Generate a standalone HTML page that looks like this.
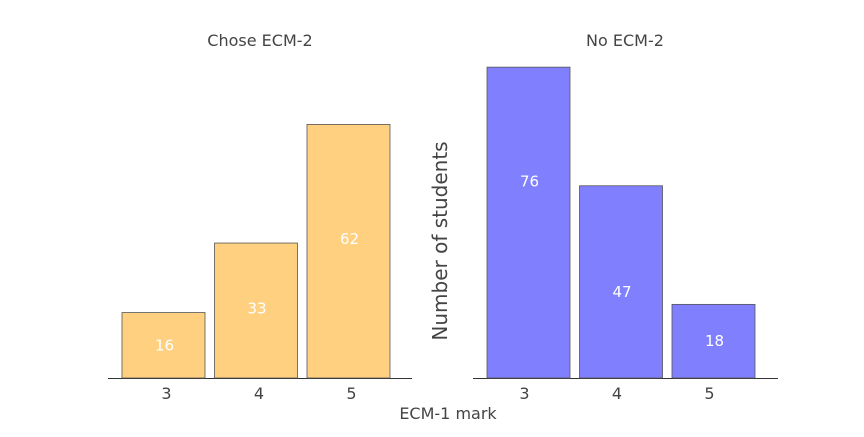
<!DOCTYPE html>
<html><head><meta charset="utf-8"><style>
body{margin:0;background:#fff;}
svg text{font-family:"DejaVu Sans","Liberation Sans",sans-serif;}
</style></head><body>
<svg id="chart" width="864" height="432" viewBox="0 0 864 432">
<text x="260" y="46" text-anchor="middle" font-size="16" fill="#444">Chose ECM-2</text>
<text x="625" y="46" text-anchor="middle" font-size="16" fill="#444">No ECM-2</text>
<text x="0" y="0" transform="translate(447,241) rotate(-90)" text-anchor="middle" font-size="20" fill="#444">Number of students</text>
<text x="448" y="419" text-anchor="middle" font-size="16" fill="#444">ECM-1 mark</text>
<g id="marks"></g>
</svg>
<script>
const categories = [3, 4, 5];
const choseValues = [16, 33, 62];
const noValues = [76, 47, 18];
// value-level at which each printed label sits
const choseLabelAt = [8, 17, 34];
const noLabelAt = [48, 21, 9];

const baseY = 378, pxPerUnit = 4.09, barW = 83, step = 92.5;
const yScale = v => baseY - v * pxPerUnit;
const panels = [
  {name: 'chose', values: choseValues, labels: choseLabelAt, first: 122, axis: [108, 412], fill: '#FFD080', tickDx: 3},
  {name: 'no', values: noValues, labels: noLabelAt, first: 487, axis: [473, 778], fill: '#8080FF', tickDx: -4}
];
const ns = 'http://www.w3.org/2000/svg';
const g = document.getElementById('marks');
function mk(tag, attrs) {
  const e = document.createElementNS(ns, tag);
  for (const k in attrs) e.setAttribute(k, attrs[k]);
  g.appendChild(e);
  return e;
}
panels.forEach(p => {
  const ax = mk('line', {x1: p.axis[0], x2: p.axis[1], y1: baseY + 0.5, y2: baseY + 0.5, stroke: '#333', 'stroke-width': 1});
  
  
  categories.forEach((c, i) => {
    const x = p.first + i * step;
    const v = p.values[i];
    const top = yScale(v);
    const r = mk('rect', {x: x, y: top, width: barW, height: baseY - top, fill: p.fill, stroke: '#555', 'stroke-width': 0.8});
    
    
    const t = mk('text', {x: x + barW / 2 + 1, y: yScale(p.labels[i]) + 5, 'text-anchor': 'middle', 'font-size': 15, fill: '#fff'});
    t.textContent = v;
    
    
    const tk = mk('text', {x: x + barW / 2 + p.tickDx, y: 399, 'text-anchor': 'middle', 'font-size': 16, fill: '#444'});
    tk.textContent = c;
    
    
  });
});
</script>
</body></html>
